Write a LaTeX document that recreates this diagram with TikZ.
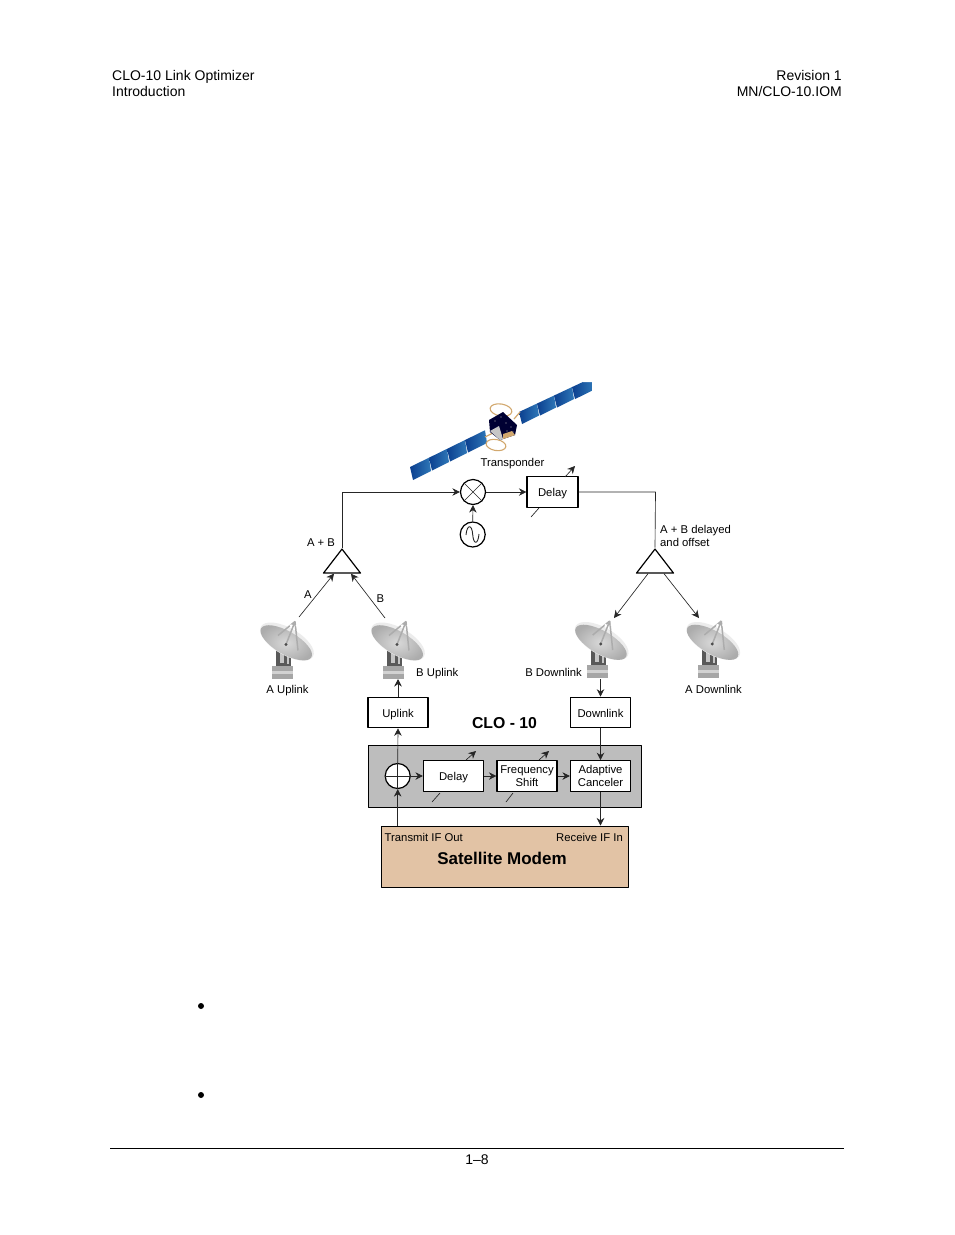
\documentclass[tikz,border=0pt]{standalone}
\usepackage{fontspec}
\setmainfont{Liberation Sans}
\usetikzlibrary{shapes.geometric,arrows.meta}
\definecolor{panelgray}{HTML}{BDBDBD}
\definecolor{modemtan}{HTML}{E2C3A5}
\definecolor{solarblue}{HTML}{0B3F8F}
\definecolor{solarlight}{HTML}{2F78B8}
\definecolor{foilgold}{HTML}{D2A86E}
\tikzset{
    pagetext/.style={font=\fontsize{14}{16}\selectfont, inner sep=0pt},
    lbl/.style={font=\fontsize{11.3}{13}\selectfont, inner sep=0pt},
    blockbox/.style={draw, line width=1.1pt, fill=white, minimum width=60pt, minimum height=30.5pt, inner sep=0pt, align=center, font=\fontsize{11.3}{13}\selectfont},
    oneline/.style={text height=9.5pt, text depth=0pt},
    roundel/.style={draw, line width=1.2pt, circle, fill=white, minimum size=25pt, inner sep=0pt},
    combiner/.style={draw, line width=1.2pt, fill=white, isosceles triangle, isosceles triangle stretches, shape border rotate=90, minimum width=37pt, minimum height=24pt, inner sep=0pt},
    wire/.style={line width=0.65pt, black!85},
    dish/.pic={
        \fill[gray!70] (-15,24) rectangle (6,37);
        \fill[gray!35] (-15,29) rectangle (6,32);
        \fill[black!65] (-11,8) rectangle (4,24);
        \fill[gray!45] (-7,11) rectangle (-3,21);
        \fill[gray!45] (0,13) rectangle (2,22);
        \fill[rotate=-30, gray!15] (0pt,0pt) ellipse (30pt and 13.5pt);
        \shade[rotate=-30, inner color=gray!30, outer color=gray!65] (0pt,-1.5pt) ellipse (29pt and 11.5pt);
        \draw[gray!65, line width=1.5pt] (8,-20) -- (-9,-6) (8,-20) -- (-1,3) (8,-20) -- (11,9);
        \fill[black!70] (-1,3) circle (1.6pt);
        \fill[white] (4,-16) circle (1.3pt) (10,-16) circle (1.3pt);
    }
}
\begin{document}
\begin{tikzpicture}[x=1pt, y=-1pt, line join=round, >={Stealth[length=7.5pt,width=7.5pt]}]
    \useasboundingbox (0,0) rectangle (954,1235);
    \fill[white] (0,0) rectangle (954,1235);
    % page furniture
    \node[pagetext, anchor=base west] (hdrleft) at (112,80) {CLO-10 Link Optimizer};
    \node[pagetext, anchor=base west] (hdrsub) at (112,96) {Introduction};
    \node[pagetext, anchor=base east] (hdrright) at (842,80) {Revision 1};
    \node[pagetext, anchor=base east] (hdrdoc) at (842,96) {MN/CLO-10.IOM};
    \draw[line width=0.7pt] (110,1148) -- (844,1148);
    \node[pagetext, anchor=base] (pageno) at (477,1164) {1–8};
    \foreach \y in {1006,1095}{
        \fill (201,\y) circle (3pt);}
    % satellite
    \foreach \a/\b in {410/429,429/447,447/465,465/485}{
        \shade[left color=solarblue, right color=solarlight] (\a,{467-(\a-410)*0.49}) -- (\b,{467-(\b-410)*0.49}) -- (\b+2,{480-(\b-413+2)*0.5}) -- (\a+3,{480-(\a-410)*0.5}) -- cycle;}
    \foreach \a/\b in {519/537,537/554,554/572,572/592}{
        \shade[left color=solarblue, right color=solarlight] (\a,{412-(\a-519)*0.47}) -- (\b,{412-(\b-519)*0.47}) -- (\b+2,{424-(\b-519)*0.47}) -- (\a+3,{424-(\a-519)*0.47}) -- cycle;}
    \fill[white] (583,376) rectangle (596,382) (592,376) rectangle (600,400);
    \draw[foilgold, line width=1.1pt, rotate around={-10:(501,410)}] (501,410) ellipse (11pt and 6pt);
    \draw[foilgold, line width=1.1pt, rotate around={-10:(496,445)}] (496,445) ellipse (10pt and 5.5pt);
    \draw[foilgold, line width=1.2pt] (485,437) -- (493,433) (514,419) -- (520,412);
    \fill[black!80!blue] (489,420) -- (503,412) -- (517,425) -- (515,435) -- (500,440) -- (490,432) -- cycle;
    \fill[gray!45] (490,431) -- (499,426) -- (503,439) -- (500,440) -- cycle;
    \fill[foilgold] (503,439) -- (515,435) -- (512,431) -- (503,434) -- cycle;
    \foreach \sx/\sy in {495/421,501/417,506/423,511/427,498/428,507/431,513/432}{
        \fill[gray!60] (\sx,\sy) circle (0.7pt);}
    \node[lbl] (transponder) at (512.5,463.5) {Transponder};
    % CLO panel and modem
    \node[draw, line width=1pt, fill=panelgray, minimum width=273pt, minimum height=62pt, inner sep=0pt] (clopanel) at (504.5,776) {};
    \node[draw, line width=1pt, fill=modemtan, minimum width=247pt, minimum height=61pt, inner sep=0pt] (modem) at (504.5,856.5) {};
    \node[lbl, anchor=west] (txout) at (384.5,837.5) {Transmit IF Out};
    \node[lbl, anchor=east] (rxin) at (623,837.5) {Receive IF In};
    \node[inner sep=0pt, font=\fontsize{17}{20}\selectfont\bfseries] (modemtitle) at (502,858) {Satellite Modem};
    \node[inner sep=0pt, font=\fontsize{15.8}{18}\selectfont\bfseries] (clotitle) at (504.5,723.5) {CLO - 10};
    % blocks
    \node[blockbox, oneline] (uplink) at (398,712.5) {Uplink};
    \node[blockbox, oneline] (downlink) at (600.5,712.5) {Downlink};
    \node[roundel] (sum) at (397.7,776) {};
    \node[blockbox, oneline] (delay) at (453.5,776) {Delay};
    \node[blockbox] (shift) at (527,776) {Frequency\\Shift};
    \node[blockbox] (canceler) at (600.5,776) {Adaptive\\Canceler};
    \node[blockbox, oneline, minimum width=51pt] (satdelay) at (552.5,492) {Delay};
    \node[roundel] (mixer) at (473,492) {};
    \node[roundel] (osc) at (472.7,534.5) {};
    \node[combiner, anchor=apex] (txtri) at (342,547.5) {};
    \node[combiner, anchor=apex] (rxtri) at (655,547.5) {};
    % antennas
    \pic (auplink) at (287,641.5) {dish};
    \pic (buplink) at (398,641.5) {dish};
    \pic (bdownlink) at (601.7,641) {dish};
    \pic (adownlink) at (713.3,641) {dish};
    \coordinate (afeed) at (299,617);
    \coordinate (bfeed) at (385,618);
    \coordinate (bdfeed) at (614,618);
    \coordinate (adfeed) at (699,618);
    \coordinate (bubase) at (398,679);
    \coordinate (bdbase) at (600.5,679);
    \coordinate (txcorner) at (342,492);
    \coordinate (rxcorner) at (655.5,492);
    % labels
    \node[lbl] (lblsum) at (321,542.5) {A + B};
    \node[lbl] (lbla) at (308,595) {A};
    \node[lbl] (lblb) at (380.5,598.5) {B};
    \node[lbl, anchor=west, align=left] (lbloffset) at (660,536) {A + B delayed\\and offset};
    \node[lbl] (lblau) at (287.5,690.5) {A Uplink};
    \node[lbl, anchor=west] (lblbu) at (416,673.5) {B Uplink};
    \node[lbl, anchor=east] (lblbd) at (582,672.5) {B Downlink};
    \node[lbl] (lblad) at (713.5,689.5) {A Downlink};
    % connectors
    \draw[wire, ->] (afeed) -- ([xshift=-8pt]txtri.south);
    \draw[wire, ->] (bfeed) -- ([xshift=9pt]txtri.south);
    \draw[wire, ->] ([xshift=-7pt]rxtri.south) -- (bdfeed);
    \draw[wire, ->] ([xshift=9pt]rxtri.south) -- (adfeed);
    \draw[wire, ->] (txtri.apex) -- (txcorner) -- (mixer.west);
    \draw[wire, ->] (mixer.east) -- (satdelay.west);
    \draw[wire, ->] (osc.north) -- (mixer.south);
    \draw[wire] (satdelay.east) -- (rxcorner) -- (rxtri.apex);
    \draw[wire, ->] (uplink.north) -- (bubase);
    \draw[wire, ->] (bdbase) -- (downlink.north);
    \draw[wire, ->] (sum.north) -- (uplink.south);
    \draw[wire, ->] (modem.north -| sum.south) -- (sum.south);
    \draw[wire, ->] (sum.east) -- (delay.west);
    \draw[wire, ->] (delay.east) -- (shift.west);
    \draw[wire, ->] (shift.east) -- (canceler.west);
    \draw[wire, ->] (downlink.south) -- (canceler.north);
    \draw[wire, ->] (canceler.south) -- (modem.north -| canceler.south);
    % mixer and summer marks
    \draw[wire] (mixer.north west) -- (mixer.south east) (mixer.north east) -- (mixer.south west);
    \draw[wire] (sum.north) -- (sum.south) (sum.west) -- (sum.east);
    \draw[wire, line width=0.9pt] (466,535) .. controls (467,524) and (472,524) .. (472.7,534.5) .. controls (473.5,545) and (478,545) .. (479,534);
    % tuning marks
    \foreach \bx/\by/\ex/\ey in {531/517/539/508, 432/802/440/793, 506/802/513/793}{
        \coordinate (tickstart) at (\bx,\by);
        \coordinate (tickend) at (\ex,\ey);
        \draw[wire] (tickstart) -- (tickend);}
    \foreach \bx/\by/\ex/\ey in {565/477/575/466, 466/760/476/751, 539/760/549/751}{
        \coordinate (tickstart) at (\bx,\by);
        \coordinate (tickend) at (\ex,\ey);
        \draw[wire, ->] (tickstart) -- (tickend);}
\end{tikzpicture}
\end{document}
